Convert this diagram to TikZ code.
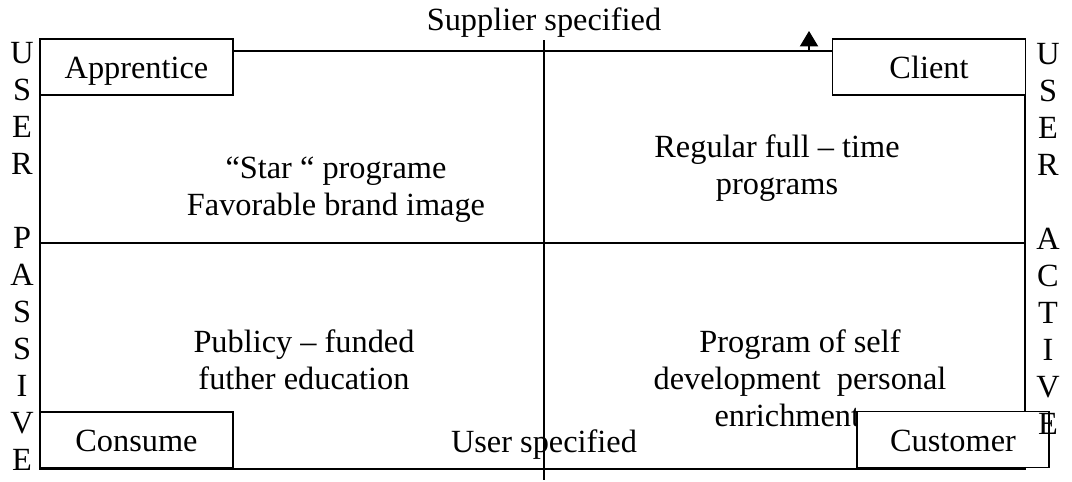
\documentclass[tikz,border=0pt]{standalone}
\usepackage{fontspec}
\setmainfont{Liberation Serif}
\usetikzlibrary{arrows.meta}

\tikzset{
  rolebox/.style={draw, fill=white, line width=1.2pt, minimum width=4.825cm, minimum height=1.4cm, inner sep=0pt, text height=17pt, text depth=0pt},
  quadtext/.style={align=center, inner sep=0pt},
  sideword/.style={align=center, inner sep=0pt},
}

\begin{document}
\begin{tikzpicture}[x=0.025cm, y=-0.025cm, font=\fontsize{23}{26.3}\selectfont, line width=1.2pt]%
\useasboundingbox (0,0) rectangle (1072,481);%
% frame and cross
\coordinate (nw) at (40,51);%
\coordinate (se) at (1025,469);%
\coordinate (vtop) at (544,40);%
\coordinate (vbot) at (544,480);%
\coordinate (hleft) at (40,243);%
\coordinate (hright) at (1025,243);%
\draw (nw) rectangle (se);%
\draw (vtop) -- (vbot);%
\draw (hleft) -- (hright);%
% quadrant texts
\node[quadtext] (star) at (336,190) {“Star “ programe\\Favorable brand image};%
\node[quadtext] (regular) at (777,168) {Regular full – time\\programs};%
\node[quadtext] (public) at (304,360) {Publicy – funded\\futher education};%
\node[quadtext] (selfdev) at (800,378) {Program of self\\development\ \ personal\\enrichment\hspace*{18pt}};%
\node[anchor=base] (supplier) at (544,30) {Supplier specified};%
\node[anchor=base] (user) at (544,452) {User specified};%
% corner boxes
\node[rolebox] (apprentice) at (136.5,67) {Apprentice};%
\node[rolebox] (client) at (929,67) {Client};%
\node[rolebox] (consume) at (136.5,440) {Consume};%
\node[rolebox, minimum width=4.8cm] (customer) at (953,439.5) {Customer};%
% arrow on top edge
\coordinate (arrfoot) at (809,51);%
\coordinate (arrtip) at (809,31);%
\draw[line width=0.8pt, -{Triangle[length=11pt, width=13pt]}] (arrfoot) -- (arrtip);%
% side words
\node[sideword] (passive) at (22,256) {U\\S\\E\\R\\[26.3pt]P\\A\\S\\S\\I\\V\\E};%
\node[sideword] (active) at (1048,238.5) {U\\S\\E\\R\\[26.3pt]A\\C\\T\\I\\V\\E};%
\end{tikzpicture}
\end{document}
